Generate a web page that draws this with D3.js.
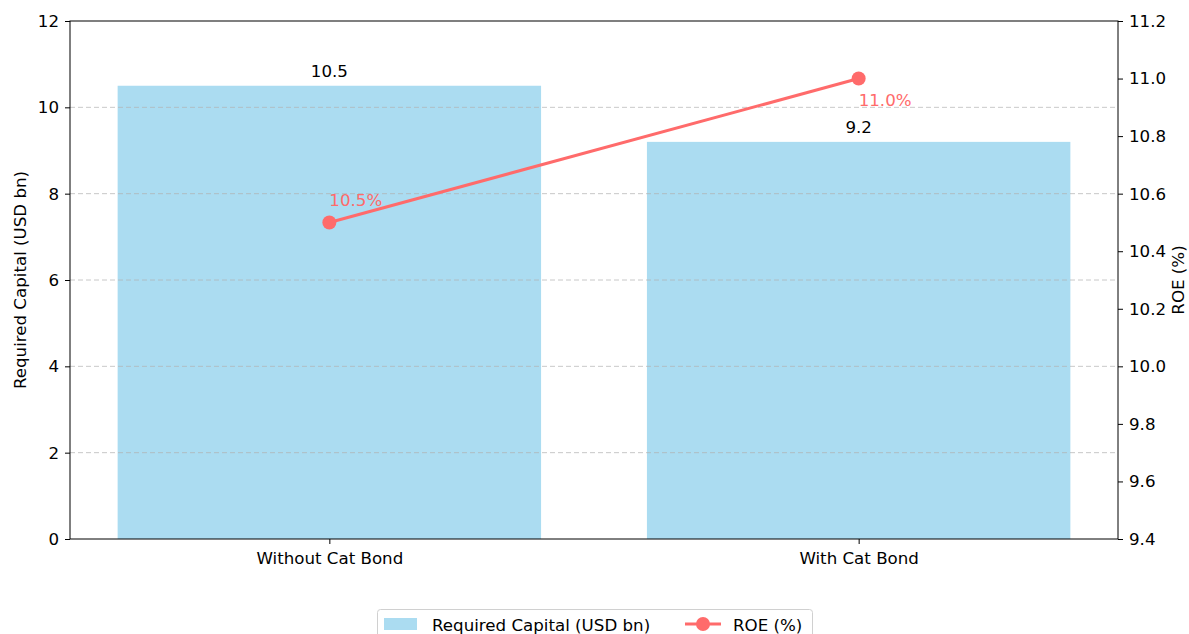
<!DOCTYPE html>
<html>
<head>
<meta charset="utf-8">
<script src="https://cdn.jsdelivr.net/npm/d3@7"></script>
<style>
  html, body { margin: 0; padding: 0; background: #fff; }
  svg text { font-family: "DejaVu Sans", sans-serif; }
</style>
</head>
<body>
<svg id="chart" width="1189" height="634"></svg>
<script>
// Chart data
const categories = ["Without Cat Bond", "With Cat Bond"];
const capital = [10.5, 9.2];          // Required Capital (USD bn)
const roe = [10.5, 11.0];             // ROE (%)
const leftTicks = [0, 2, 4, 6, 8, 10, 12];
const rightTicks = [9.4, 9.6, 9.8, 10.0, 10.2, 10.4, 10.6, 10.8, 11.0, 11.2];
const legendLabels = ["Required Capital (USD bn)", "ROE (%)"];

const svg = d3.select("#chart");
const plot = { left: 70, right: 1118, top: 21, bottom: 539 };
const barColor = "#abdcf1";
const lineColor = "#ff6b6b";
const fs = 16.67;

const x = d3.scaleLinear().domain([-0.49, 1.49]).range([plot.left, plot.right]);
const yL = d3.scaleLinear().domain([0, 12]).range([plot.bottom, plot.top]);
const yR = d3.scaleLinear().domain([9.4, 11.2]).range([plot.bottom, plot.top]);
const barW = x(0.8) - x(0);

// Bars
svg.append("g").selectAll("rect").data(capital).join("rect")
  .attr("x", (d, i) => x(i) - barW / 2)
  .attr("y", d => yL(d))
  .attr("width", barW)
  .attr("height", d => yL(0) - yL(d))
  .attr("fill", barColor);

// Horizontal grid
svg.append("g").selectAll("line").data(leftTicks.filter(t => t > 0 && t < 12)).join("line")
  .attr("x1", plot.left).attr("x2", plot.right)
  .attr("y1", d => yL(d)).attr("y2", d => yL(d))
  .attr("stroke", "#b0b0b0").attr("stroke-opacity", 0.7)
  .attr("stroke-width", 1).attr("stroke-dasharray", "5,3");

// Bar value labels
svg.append("g").selectAll("text").data(capital).join("text")
  .attr("x", (d, i) => x(i))
  .attr("y", d => yL(d) - 9)
  .attr("text-anchor", "middle")
  .attr("font-size", fs).attr("fill", "#000")
  .text(d => d.toFixed(1));

// Axes
const axisStyle = g => {
  g.selectAll(".domain").remove();
  g.selectAll(".tick line").attr("stroke", "#000").attr("stroke-width", 1);
  g.selectAll(".tick text").attr("font-size", fs).attr("fill", "#000")
    .attr("font-family", "DejaVu Sans, sans-serif");
};
svg.append("g").attr("transform", `translate(${plot.left},0)`)
  .call(d3.axisLeft(yL).tickValues(leftTicks).tickFormat(d3.format("d")).tickSize(5).tickPadding(6))
  .call(axisStyle);
svg.append("g").attr("transform", `translate(${plot.right},0)`)
  .call(d3.axisRight(yR).tickValues(rightTicks).tickFormat(d3.format(".1f")).tickSize(5).tickPadding(6))
  .call(axisStyle);
svg.append("g").attr("transform", `translate(0,${plot.bottom})`)
  .call(d3.axisBottom(x).tickValues([0, 1]).tickFormat(i => categories[i]).tickSize(5).tickPadding(8))
  .call(axisStyle);

// Frame
svg.append("rect")
  .attr("x", plot.left).attr("y", plot.top)
  .attr("width", plot.right - plot.left).attr("height", plot.bottom - plot.top)
  .attr("fill", "none").attr("stroke", "#000").attr("stroke-width", 1);

// Axis titles
svg.append("text")
  .attr("transform", `translate(26,${(plot.top + plot.bottom) / 2}) rotate(-90)`)
  .attr("text-anchor", "middle").attr("font-size", fs).attr("fill", "#000")
  .text("Required Capital (USD bn)");
svg.append("text")
  .attr("transform", `translate(1184,${(plot.top + plot.bottom) / 2}) rotate(-90)`)
  .attr("text-anchor", "middle").attr("font-size", fs).attr("fill", "#000")
  .text("ROE (%)");

// ROE line
const line = d3.line().x((d, i) => x(i)).y(d => yR(d));
svg.append("path").datum(roe)
  .attr("d", line).attr("fill", "none")
  .attr("stroke", lineColor).attr("stroke-width", 3);
svg.append("g").selectAll("circle").data(roe).join("circle")
  .attr("cx", (d, i) => x(i)).attr("cy", d => yR(d)).attr("r", 7)
  .attr("fill", lineColor);

// ROE labels
const roeOffsets = [-16, 27];
svg.append("g").selectAll("text").data(roe).join("text")
  .attr("x", (d, i) => x(i))
  .attr("y", (d, i) => yR(d) + roeOffsets[i])
  .attr("font-size", fs).attr("fill", lineColor)
  .text(d => d.toFixed(1) + "%");

// Legend
const lg = svg.append("g");
lg.append("rect")
  .attr("x", 377.5).attr("y", 609.5).attr("width", 435).attr("height", 40)
  .attr("rx", 3).attr("fill", "#fff").attr("stroke", "#d0d0d0").attr("stroke-width", 1);
lg.append("rect").attr("x", 384).attr("y", 618).attr("width", 33).attr("height", 12).attr("fill", barColor);
lg.append("text").attr("x", 432).attr("y", 631).attr("font-size", fs).attr("fill", "#000").text(legendLabels[0]);
lg.append("line").attr("x1", 685).attr("x2", 721).attr("y1", 624).attr("y2", 624)
  .attr("stroke", lineColor).attr("stroke-width", 3);
lg.append("circle").attr("cx", 703).attr("cy", 624).attr("r", 7).attr("fill", lineColor);
lg.append("text").attr("x", 733).attr("y", 631).attr("font-size", fs).attr("fill", "#000").text(legendLabels[1]);
</script>
</body>
</html>
